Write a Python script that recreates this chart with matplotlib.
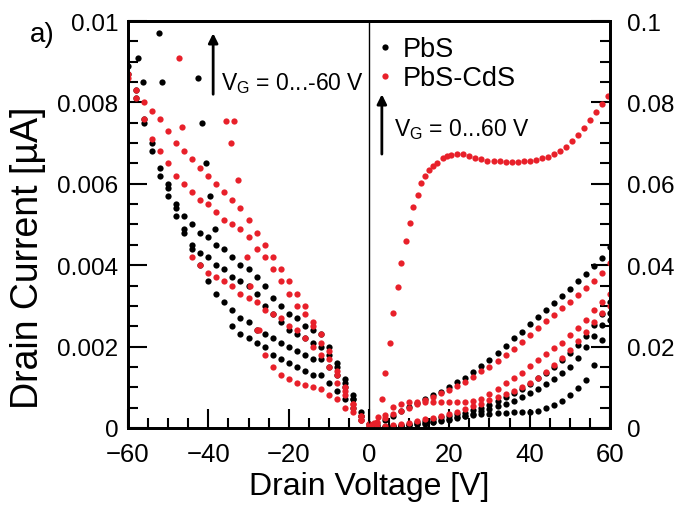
import matplotlib
matplotlib.use("Agg")
import matplotlib.pyplot as plt
from matplotlib.lines import Line2D
from matplotlib.ticker import MultipleLocator, FormatStrFormatter

plt.rcParams['font.family'] = ['Liberation Sans', 'DejaVu Sans']
plt.rcParams['mathtext.fontset'] = 'custom'
plt.rcParams['mathtext.rm'] = 'Liberation Sans'

BLACK = '#000000'
RED = '#e8202a'

# ---- negative drain voltage (left axis, uA) ----
v_neg = [-60, -58, -56, -54, -52, -50, -48, -46, -44, -42, -40, -38, -36, -34, -32, -30,
         -28, -26, -24, -22, -20, -18, -16, -14, -12, -10, -8, -6, -4, -2, 0]

pbs_neg_1 = [0.0089, 0.0083, 0.0076, 0.0070, 0.0064, 0.0059, 0.0055, 0.0052, 0.0050, 0.0048,
             0.0047, 0.0045, 0.0044, 0.0042, 0.0040, 0.0039, 0.0037, 0.0035, 0.0032, 0.0030,
             0.0028, 0.0027, 0.0025, 0.0024, 0.0023, 0.0020, 0.0016, 0.0012, 0.0008, 0.0004, 0.0001]
pbs_neg_2 = [0.0087, 0.0081, 0.0075, 0.0068, 0.0062, 0.0057, 0.0052, 0.0048, 0.0045, 0.0043,
             0.0042, 0.0040, 0.0039, 0.0037, 0.0036, 0.0035, 0.0033, 0.0030, 0.0028, 0.0026,
             0.0024, 0.0023, 0.0022, 0.0021, 0.0020, 0.0018, 0.0015, 0.0011, 0.0007, 0.0003, 0.0000]
pbs_neg_3 = [0.0060, 0.0054, 0.0049, 0.0044, 0.0040, 0.0036, 0.0033, 0.0031, 0.0029, 0.0027,
             0.0026, 0.0024, 0.0023, 0.0022, 0.0021, 0.0020, 0.0019, 0.0018, 0.0017, 0.0017,
             0.0015, 0.0013, 0.0010, 0.0007, 0.0003, 0.0000]          # from -50 V
pbs_neg_4 = [0.0025, 0.0023, 0.0022, 0.0021, 0.0020, 0.0018, 0.0017, 0.0016, 0.0015, 0.0014,
             0.0013, 0.0013, 0.0011, 0.0009, 0.0007, 0.0005, 0.0002, 0.0000]  # from -34 V
pbs_neg_out_v = [-57.5, -56.2, -52.3, -51.5, -42.6, -41.6, -40.6, -39.6, -38.3]
pbs_neg_out_i = [0.0091, 0.0085, 0.0097, 0.0085, 0.0086, 0.0075, 0.0065, 0.0057, 0.0049]

cds_neg_1 = [0.0086, 0.0083, 0.0080, 0.0078, 0.0076, 0.0073, 0.0070, 0.0068, 0.0066, 0.0064,
             0.0062, 0.0060, 0.0058, 0.0056, 0.0054, 0.0051, 0.0048, 0.0045, 0.0042, 0.0039,
             0.0036, 0.0033, 0.0030, 0.0026, 0.0023, 0.0019, 0.0014, 0.0010, 0.0006, 0.0003, 0.0001]
cds_neg_2 = [0.0087, 0.0081, 0.0076, 0.0071, 0.0068, 0.0065, 0.0062, 0.0060, 0.0058, 0.0056,
             0.0055, 0.0053, 0.0051, 0.0050, 0.0049, 0.0047, 0.0044, 0.0042, 0.0039, 0.0036,
             0.0033, 0.0030, 0.0028, 0.0025, 0.0021, 0.0017, 0.0013, 0.0009, 0.0006, 0.0003, 0.0001]
cds_neg_3 = [0.0042, 0.0040, 0.0038, 0.0037, 0.0036, 0.0035, 0.0033, 0.0032, 0.0031, 0.0029,
             0.0028, 0.0027, 0.0025, 0.0024, 0.0022, 0.0020, 0.0018, 0.0015, 0.0011, 0.0008,
             0.0005, 0.0002, 0.0000]                                   # from -44 V
cds_neg_4 = [0.0024, 0.0018, 0.0015, 0.0013, 0.0012, 0.0011, 0.00105, 0.0010, 0.00095, 0.0008,
             0.0007, 0.0005, 0.0004, 0.0002, 0.0000]                   # from -28 V
cds_neg_out_v = [-47.3, -46.5, -35.6, -33.6, -34.4, -32.6, -30.4, -29.6, -27.4]
cds_neg_out_i = [0.0091, 0.0074, 0.00755, 0.00755, 0.0070, 0.0061, 0.0042, 0.0035, 0.0024]

# ---- positive drain voltage (right axis) ----
v_pos = [0, 2, 4, 6, 8, 10, 12, 14, 16, 18, 20, 22, 24, 26, 28, 30,
         32, 34, 36, 38, 40, 42, 44, 46, 48, 50, 52, 54, 56, 58, 60]

pbs_pos_1 = [0, 0.0008, 0.0020, 0.0030, 0.0041, 0.0052, 0.0062, 0.0071, 0.0080, 0.0089, 0.0100,
             0.0112, 0.0124, 0.0138, 0.0153, 0.0168, 0.0185, 0.0202, 0.0220, 0.0237, 0.0255,
             0.0272, 0.0289, 0.0307, 0.0324, 0.0342, 0.0360, 0.0378, 0.0398, 0.0418, 0.0445]
pbs_pos_2 = [0, 0.0001, 0.0003, 0.0005, 0.0008, 0.0011, 0.0015, 0.0018, 0.0022, 0.0026, 0.0030,
             0.0034, 0.0038, 0.0043, 0.0049, 0.0057, 0.0066, 0.0075, 0.0085, 0.0096, 0.0108,
             0.0122, 0.0136, 0.0151, 0.0167, 0.0185, 0.0205, 0.0227, 0.0252, 0.0280, 0.0310]
pbs_pos_3 = [0, 0.0001, 0.0002, 0.0003, 0.0005, 0.0007, 0.0009, 0.0011, 0.0014, 0.0017, 0.0020,
             0.0024, 0.0029, 0.0035, 0.0041, 0.0046, 0.0053, 0.0060, 0.0067, 0.0076, 0.0086,
             0.0097, 0.0109, 0.0121, 0.0135, 0.0150, 0.0172, 0.0198, 0.0225, 0.0252, 0.0282]
pbs_pos_4 = [0, 0.0002, 0.0003, 0.0005, 0.0006, 0.0008, 0.0010, 0.0012, 0.0015, 0.0019, 0.0023,
             0.0027, 0.0030, 0.0032, 0.0034, 0.0035, 0.0037, 0.0038, 0.0039, 0.0039, 0.0040,
             0.0042, 0.0048, 0.0057, 0.0066, 0.0080, 0.0098, 0.0118, 0.0155, 0.0215, 0.0265]

cds_pos_1 = [0, 0.0012, 0.0025, 0.0034, 0.0042, 0.0050, 0.0058, 0.0068, 0.0077, 0.0086, 0.0094,
             0.0104, 0.0114, 0.0126, 0.0139, 0.0151, 0.0165, 0.0180, 0.0195, 0.0212, 0.0229,
             0.0245, 0.0262, 0.0278, 0.0294, 0.0310, 0.0327, 0.0344, 0.0362, 0.0382, 0.0405]
cds_pos_2 = [0.0005, 0.0015, 0.0032, 0.0052, 0.0060, 0.0063, 0.0064, 0.0064, 0.0064, 0.0064, 0.0064,
             0.0064, 0.0064, 0.0066, 0.0072, 0.0083, 0.0096, 0.0110, 0.0122, 0.0135, 0.0152,
             0.0168, 0.0182, 0.0196, 0.0210, 0.0228, 0.0246, 0.0265, 0.0290, 0.0310, 0.0330]
cds_pos_3 = [0, 0.0002, 0.0005, 0.0007, 0.0010, 0.0013, 0.0017, 0.0021, 0.0025, 0.0029, 0.0034,
             0.0040, 0.0046, 0.0053, 0.0060, 0.0068, 0.0076, 0.0084, 0.0092, 0.0101, 0.0110,
             0.0122, 0.0138, 0.0155, 0.0172, 0.0192, 0.0213, 0.0236, 0.0260, 0.0282, 0.0300]
cds_big_v = [0.5, 1.3, 2.2, 3.2, 4.0, 5.2, 6.0, 7.2, 8.0, 9.2, 10.2, 11.0, 12.2, 13.0, 14.0,
             15.0, 16.0, 17.0, 18.4, 19.5, 20.5, 22.0, 23.5, 25.0, 26.5, 28.0, 29.5, 31.0, 32.5,
             34.0, 35.5, 37.0, 38.5, 40.0, 41.5, 43.0, 44.5, 46.0, 47.5, 49.0, 50.5, 52.0, 53.5,
             55.0, 56.5, 58.0, 59.5]
cds_big_i = [0.0005, 0.0012, 0.0027, 0.0071, 0.0135, 0.0209, 0.0283, 0.0347, 0.0405, 0.0459,
             0.0504, 0.0543, 0.0572, 0.0602, 0.0619, 0.0634, 0.0643, 0.0651, 0.0663, 0.0668,
             0.0671, 0.0673, 0.0672, 0.0668, 0.0664, 0.0660, 0.0657, 0.0656, 0.0655, 0.0654,
             0.0654, 0.0654, 0.0655, 0.0656, 0.0659, 0.0663, 0.0667, 0.0672, 0.0680, 0.0690,
             0.0705, 0.0720, 0.0738, 0.0757, 0.0776, 0.0797, 0.0816]

fig = plt.figure(figsize=(6.78, 5.06), dpi=100)
ax = fig.add_axes([0.1888, 0.1522, 0.7109, 0.8043])
ax2 = ax.twinx()

ms = 4.5
dot = dict(ls='', marker='o', ms=ms, mew=0)

# left half
ax.plot(v_neg, pbs_neg_1, color=BLACK, **dot)
ax.plot(v_neg, pbs_neg_2, color=BLACK, **dot)
ax.plot(v_neg[5:], pbs_neg_3, color=BLACK, **dot)
ax.plot(v_neg[13:], pbs_neg_4, color=BLACK, **dot)
ax.plot(pbs_neg_out_v, pbs_neg_out_i, color=BLACK, **dot)
ax.plot(v_neg, cds_neg_1, color=RED, **dot)
ax.plot(v_neg, cds_neg_2, color=RED, **dot)
ax.plot(v_neg[8:], cds_neg_3, color=RED, **dot)
ax.plot(v_neg[16:], cds_neg_4, color=RED, **dot)
ax.plot(cds_neg_out_v, cds_neg_out_i, color=RED, **dot)

# right half
for ys in (pbs_pos_1, pbs_pos_2, pbs_pos_3, pbs_pos_4):
    ax2.plot(v_pos, ys, color=BLACK, **dot)
for ys in (cds_pos_1, cds_pos_2, cds_pos_3):
    ax2.plot(v_pos, ys, color=RED, **dot)
ax2.plot(cds_big_v, cds_big_i, color=RED, **dot)

ax.axvline(0, color='black', lw=1)

ax.set_xlim(-60, 60)
ax.set_ylim(0, 0.01)
ax2.set_ylim(0, 0.1)

ax.xaxis.set_major_locator(MultipleLocator(20))
ax.xaxis.set_minor_locator(MultipleLocator(5))
ax.yaxis.set_major_locator(MultipleLocator(0.002))
ax.yaxis.set_minor_locator(MultipleLocator(0.0005))
ax.yaxis.set_major_formatter(FormatStrFormatter('%g'))
ax2.yaxis.set_major_locator(MultipleLocator(0.02))
ax2.yaxis.set_minor_locator(MultipleLocator(0.005))
ax2.yaxis.set_major_formatter(FormatStrFormatter('%g'))

for a in (ax, ax2):
    a.tick_params(which='major', direction='in', length=14, width=1.5, labelsize=17.5)
    a.tick_params(which='minor', direction='in', length=7, width=1.5)
    for s in a.spines.values():
        s.set_linewidth(2)
ax.tick_params(axis='x', labelsize=18.5)
ax.tick_params(axis='y', pad=7, right=False, which='both')
ax.tick_params(axis='x', pad=10, top=False, which='both')
ax2.tick_params(axis='y', pad=12)

ax.set_xlabel('Drain Voltage [V]', fontsize=23, labelpad=4)
fig.text(0.042, 0.49, 'Drain Current [µA]', fontsize=27, rotation=90, ha='center', va='center')
fig.text(0.044, 0.93, 'a)', fontsize=20, ha='left', va='center')

# gate voltage arrows
ax.annotate('', xy=(-38.8, 0.0097), xytext=(-38.8, 0.0082),
            arrowprops=dict(arrowstyle='-|>', color='black', lw=2, mutation_scale=14, shrinkA=0, shrinkB=0))
ax.text(-36.8, 0.0085, 'V$_\\mathrm{G}$ = 0...-60 V', fontsize=16.5, ha='left', va='center')
ax2.annotate('', xy=(3.2, 0.082), xytext=(3.2, 0.0673),
             arrowprops=dict(arrowstyle='-|>', color='black', lw=2, mutation_scale=14, shrinkA=0, shrinkB=0))
ax2.text(6.3, 0.0735, 'V$_\\mathrm{G}$ = 0...60 V', fontsize=16.5, ha='left', va='center')

handles = [Line2D([], [], color=BLACK, **dot), Line2D([], [], color=RED, **dot)]
ax2.legend(handles, ['PbS', 'PbS-CdS'], loc='upper left', bbox_to_anchor=(0.517, 0.962),
           frameon=False, fontsize=19.5, handlelength=0.6, handletextpad=0.35,
           labelspacing=0.1, borderpad=0, borderaxespad=0)

fig.savefig('out.png', dpi=100)
